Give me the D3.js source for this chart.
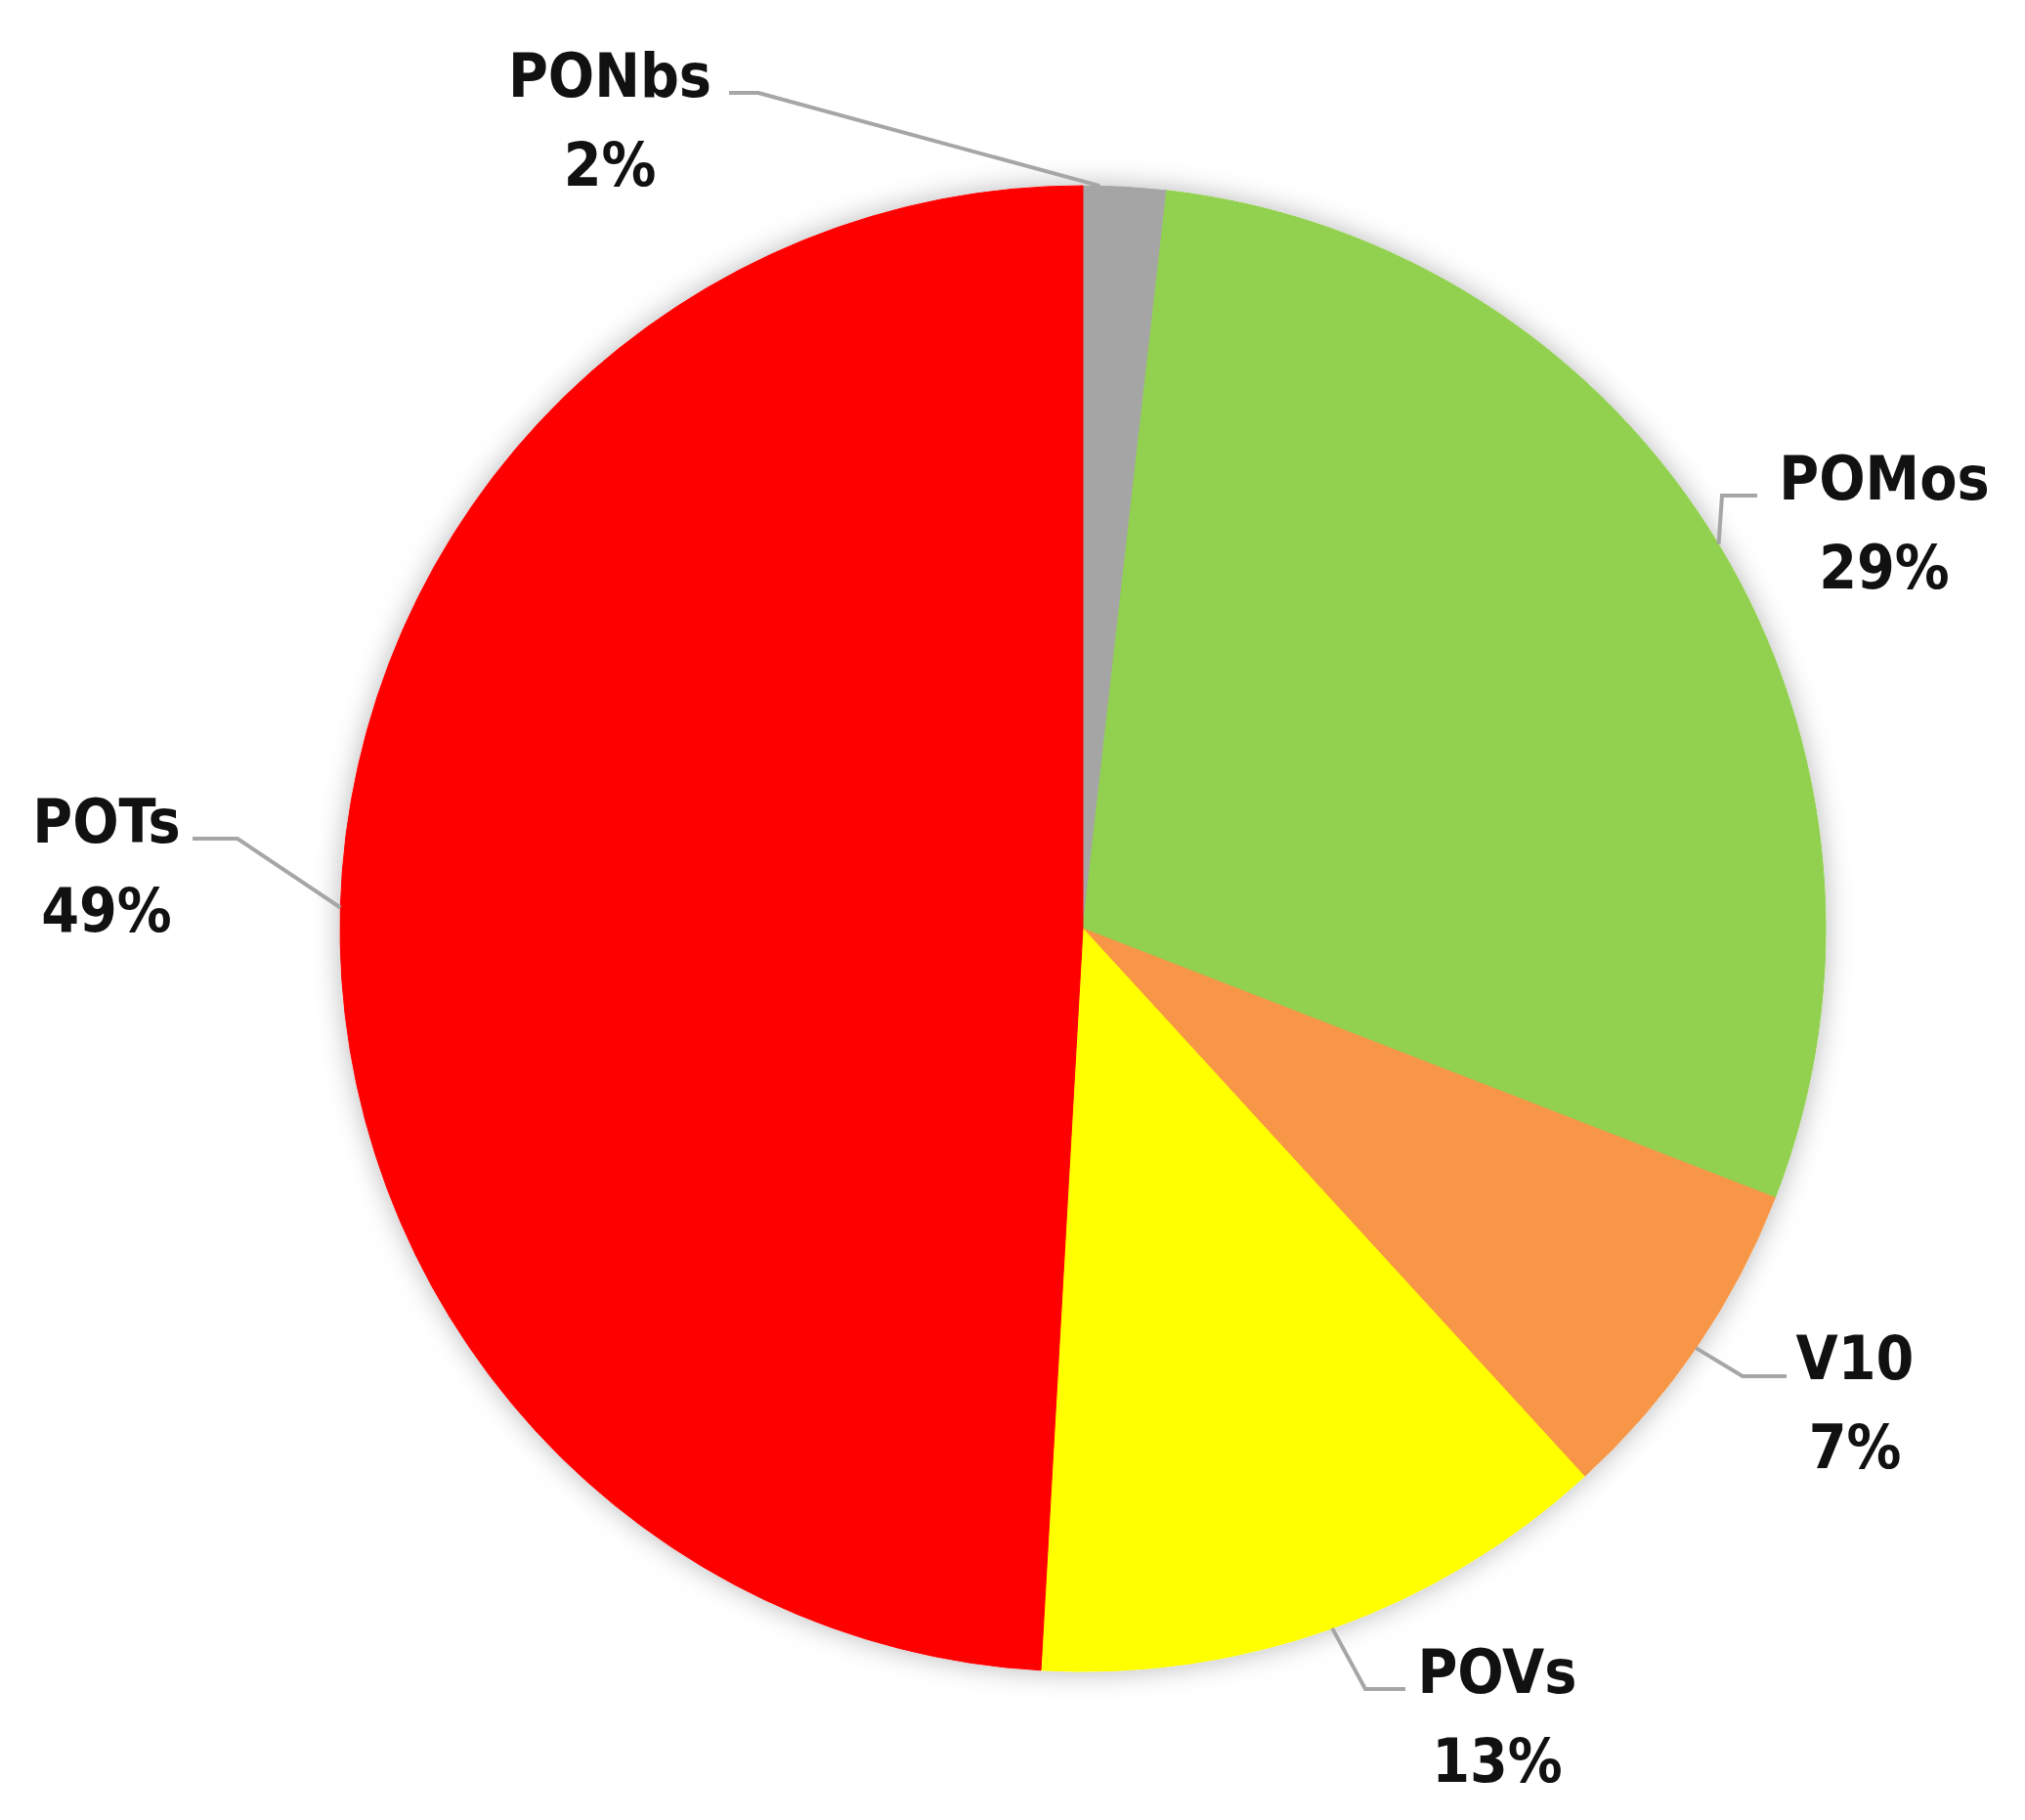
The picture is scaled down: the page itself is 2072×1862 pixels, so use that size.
<!DOCTYPE html>
<html>
<head>
<meta charset="utf-8">
<script src="https://cdn.jsdelivr.net/npm/d3@7"></script>
<style>
	body { margin: 0; background: #fff; }
	.slice-label { font-family: "Liberation Sans Narrow", "DejaVu Sans Condensed", Arial, sans-serif; font-weight: bold; fill: #111; }
</style>
</head>
<body>
<div id="chart-area"></div>
<script>

// data, clockwise from 12 o'clock
let categories = ["PONbs", "POMos", "V10", "POVs", "POTs"];
let shares = [1.8, 29.1, 7.3, 12.7, 49.1];
let percentLabels = ["2%", "29%", "7%", "13%", "49%"];
let sliceColors = ["#A5A5A5", "#92D050", "#F79646", "#FFFF00", "#FF0000"];

let width = 2072;
let height = 1862;

let cx = 1108, cy = 950, radius = 760;

// where each label sits and where its leader bends (layout only)
// rim = how far along the slice the leader touches the edge (0.5 = middle)
let labelLayout = {
	"PONbs": {x: 624, y: 99, elbow: [776, 95], end: [746, 95], rim: 0.2},
	"POMos": {x: 1928, y: 511, elbow: [1762, 507], end: [1798, 507], rim: 0.5},
	"V10":   {x: 1898, y: 1411, elbow: [1783, 1408], end: [1828, 1408], rim: 0.5},
	"POVs":  {x: 1532, y: 1732, elbow: [1397, 1728], end: [1438, 1728], rim: 0.5},
	"POTs":  {x: 109, y: 862, elbow: [243, 858], end: [197, 858], rim: 0.5}
};
let lineGap = 91;

let svg = d3.select("#chart-area").append("svg")
	.attr("width", width)
	.attr("height", height);

// soft shadow round the pie
let defs = svg.append("defs");
let shadow = defs.append("filter")
	.attr("id", "pieShadow")
	.attr("x", "-10%").attr("y", "-10%")
	.attr("width", "120%").attr("height", "120%");
shadow.append("feDropShadow")
	.attr("dx", 0).attr("dy", 0)
	.attr("stdDeviation", 14)
	.attr("flood-color", "#000")
	.attr("flood-opacity", 0.28);

let data = categories.map((c, i) => ({name: c, value: shares[i], pct: percentLabels[i], color: sliceColors[i]}));

let pie = d3.pie()
	.sort(null)
	.value(d => d.value);

let arc = d3.arc()
	.innerRadius(0)
	.outerRadius(radius);

let arcs = pie(data);

let g = svg.append("g")
	.attr("transform", `translate(${cx},${cy})`);

g.append("g")
	.attr("filter", "url(#pieShadow)")
	.selectAll("path")
	.data(arcs)
	.enter()
	.append("path")
	.attr("d", arc)
	.attr("fill", d => d.data.color)
	.attr("stroke", d => d.data.color)
	.attr("stroke-width", 1);

// leader lines: point on the rim -> elbow -> label
let leader = d3.line();

svg.selectAll(".leader")
	.data(arcs)
	.enter()
	.append("path")
	.attr("class", "leader")
	.attr("fill", "none")
	.attr("stroke", "#A6A6A6")
	.attr("stroke-width", 4)
	.attr("d", d => {
		let lay = labelLayout[d.data.name];
		let a = d.startAngle + (d.endAngle - d.startAngle) * lay.rim;
		let rimPt = [cx + radius * Math.sin(a), cy - radius * Math.cos(a)];
		return leader([rimPt, lay.elbow, lay.end]);
	});

// labels
let labels = svg.selectAll(".slice-label")
	.data(arcs)
	.enter()
	.append("text")
	.attr("class", "slice-label")
	.attr("text-anchor", "middle")
	.attr("font-size", 62)
	.attr("x", d => labelLayout[d.data.name].x)
	.attr("y", d => labelLayout[d.data.name].y);

labels.append("tspan")
	.text(d => d.data.name);

labels.append("tspan")
	.attr("x", d => labelLayout[d.data.name].x)
	.attr("dy", lineGap)
	.text(d => d.data.pct);

</script>
</body>
</html>
